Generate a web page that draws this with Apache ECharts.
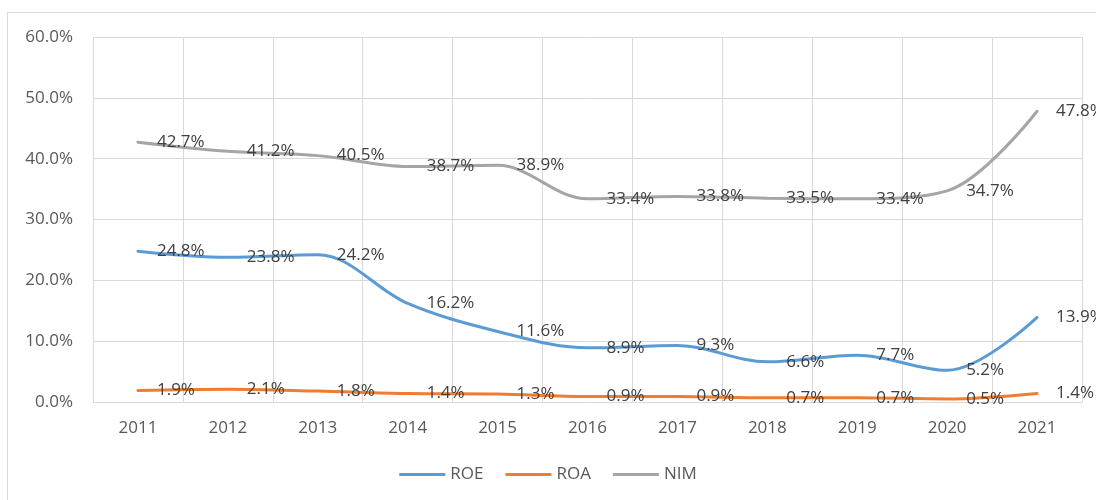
<!DOCTYPE html>
<html>
<head>
<meta charset="utf-8">
<script src="https://cdn.jsdelivr.net/npm/echarts@6/dist/echarts.min.js"></script>
<style>html,body{margin:0;padding:0;background:#fff}#c{width:1096px;height:500px}</style>
</head>
<body>
<div id="c"></div>
<script>
const categories = ['2011','2012','2013','2014','2015','2016','2017','2018','2019','2020','2021'];
const roe = [24.8, 23.8, 24.2, 16.2, 11.6, 8.9, 9.3, 6.6, 7.7, 5.2, 13.9];
const roa = [1.9, 2.1, 1.8, 1.4, 1.3, 0.9, 0.9, 0.7, 0.7, 0.5, 1.4];
const nim = [42.7, 41.2, 40.5, 38.7, 38.9, 33.4, 33.8, 33.5, 33.4, 34.7, 47.8];
const seriesNames = ['ROE','ROA','NIM'];
const colors = ['#5B9BD5','#ED7D31','#A5A5A5'];

const font = '"Open Sans", "Noto Sans", sans-serif';
function mk(name, data, color){
  return {
    name, type:'line', data, smooth:0.35, symbol:'circle', symbolSize:2, showSymbol:true,
    lineStyle:{color, width:3, cap:'round'}, itemStyle:{color, opacity:0},
    label:{show:true, position:'right', distance:18, formatter:p=>p.value.toFixed(1)+'%',
      color:'#404040', fontSize:17, fontFamily:font, opacity:1},
    labelLayout:{hideOverlap:false},
    z: 2
  };
}
const chart = echarts.init(document.getElementById('c'), null, {renderer:'canvas'});
chart.setOption({
  animation:false,
  color:colors,
  graphic:[{type:'rect', shape:{x:7.5, y:12.5, width:1100, height:500}, style:{fill:'none', stroke:'#D9D9D9', lineWidth:1}, z:-1}],
  grid:{left:93, right:14, top:37, bottom:98},
  legend:{bottom:12, left:'center', itemWidth:46, itemHeight:3, itemGap:22, icon:'rect',
    itemStyle:{opacity:1},
    textStyle:{color:'#595959', fontSize:17, fontFamily:font},
    data:seriesNames.map((n,i)=>({name:n, itemStyle:{color:colors[i], opacity:1}}))},
  xAxis:{type:'category', data:categories, boundaryGap:true,
    axisLine:{lineStyle:{color:'#D9D9D9', width:1}}, axisTick:{show:false},
    splitLine:{show:true, lineStyle:{color:'#D9D9D9', width:1}},
    axisLabel:{color:'#595959', fontSize:17, fontFamily:font, margin:18}},
  yAxis:{type:'value', min:0, max:60, interval:10,
    axisLine:{show:false}, axisTick:{show:false},
    splitLine:{lineStyle:{color:'#D9D9D9', width:1}},
    axisLabel:{color:'#595959', fontSize:17, fontFamily:font, margin:20, formatter:v=>v.toFixed(1)+'%'}},
  series:[mk('ROE', roe, colors[0]), mk('ROA', roa, colors[1]), mk('NIM', nim, colors[2])]
});
</script>
</body>
</html>
